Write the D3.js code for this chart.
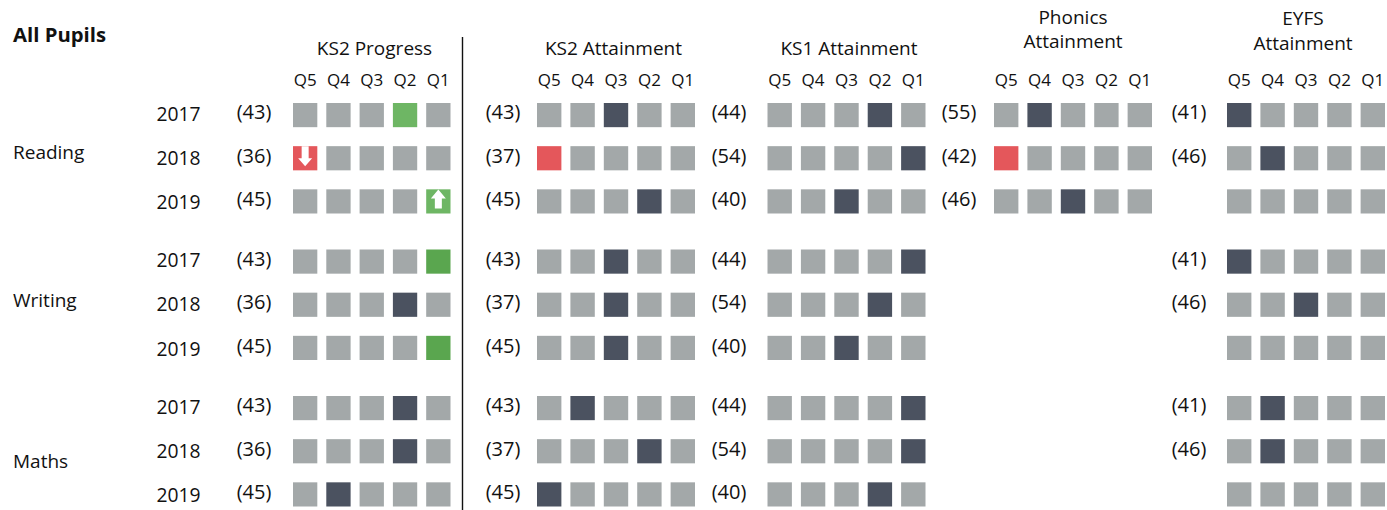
<!DOCTYPE html>
<html>
<head>
<meta charset="utf-8">
<script src="https://cdn.jsdelivr.net/npm/d3@7"></script>
<style>
  html, body { margin: 0; padding: 0; background: #fff; }
  svg { display: block; }
  text { font-family: "Open Sans", "Noto Sans", sans-serif; fill: #111; }
</style>
</head>
<body>
<svg id="chart"></svg>
<script>
const title = 'All Pupils';
const subjects = ['Reading', 'Writing', 'Maths'];
const years = ['2017', '2018', '2019'];
const quintiles = ['Q5', 'Q4', 'Q3', 'Q2', 'Q1'];

const panels = [
  ['KS2 Progress'],
  ['KS2 Attainment'],
  ['KS1 Attainment'],
  ['Phonics', 'Attainment'],
  ['EYFS', 'Attainment']
];

// pupil counts, one entry per subject-year (null = no label)
const ks2ProgressCounts = [43, 36, 45, 43, 36, 45, 43, 36, 45];
const ks2AttainCounts = [43, 37, 45, 43, 37, 45, 43, 37, 45];
const ks1Counts = [44, 54, 40, 44, 54, 40, 44, 54, 40];
const phonicsCounts = [55, 42, 46, null, null, null, null, null, null];
const eyfsCounts = [41, 46, null, 41, 46, null, 41, 46, null];

// which quintile is highlighted (null = none)
const ks2ProgressQ = ['Q2', 'Q5', 'Q1', 'Q1', 'Q2', 'Q1', 'Q2', 'Q2', 'Q4'];
const ks2AttainQ = ['Q3', 'Q5', 'Q2', 'Q3', 'Q3', 'Q3', 'Q4', 'Q2', 'Q5'];
const ks1Q = ['Q2', 'Q1', 'Q3', 'Q1', 'Q2', 'Q3', 'Q1', 'Q1', 'Q2'];
const phonicsQ = ['Q4', 'Q5', 'Q3', null, null, null, null, null, null];
const eyfsQ = ['Q5', 'Q4', null, 'Q5', 'Q3', null, 'Q4', 'Q4', null];

// cell state: d dark, r red, g green, G darker green
const ks2ProgressState = ['g', 'r', 'g', 'G', 'd', 'G', 'd', 'd', 'd'];
const ks2AttainState = ['d', 'r', 'd', 'd', 'd', 'd', 'd', 'd', 'd'];
const ks1State = ['d', 'd', 'd', 'd', 'd', 'd', 'd', 'd', 'd'];
const phonicsState = ['d', 'r', 'd', null, null, null, null, null, null];
const eyfsState = ['d', 'd', null, 'd', 'd', null, 'd', 'd', null];

// arrows on the KS2 Progress panel only
const ks2ProgressArrow = [null, 'down', 'up', null, null, null, null, null, null];

const panelCounts = [ks2ProgressCounts, ks2AttainCounts, ks1Counts, phonicsCounts, eyfsCounts];
const panelQ = [ks2ProgressQ, ks2AttainQ, ks1Q, phonicsQ, eyfsQ];
const panelState = [ks2ProgressState, ks2AttainState, ks1State, phonicsState, eyfsState];

const width = 1387, height = 510;
const colors = { base: '#a3a8a9', d: '#4b5260', r: '#e4575b', g: '#6eb664', G: '#5aa64f' };

const svg = d3.select('#chart').attr('width', width).attr('height', height);

// layout per panel
const panelRange = [[293, 450.5], [537, 695], [767.5, 925.5], [994, 1152], [1227, 1385]];
const countX = [254, 503, 729, 959, 1189];
const headX = [374.5, 613.5, 849, 1073, 1303];
const headY = [[55], [55], [55], [23.5, 48], [25, 50]];

// rows: a scale for the subject group and one for the year inside it
const subjectTop = d3.scalePoint().domain(subjects).range([103, 396]);
const yearY = d3.scaleBand().domain(years).range([0, 110.5]).paddingInner(0.44);
const yearLabelY = d3.scalePoint().domain(years).range([17.5, 106]);
const countLabelY = d3.scalePoint().domain(years).range([16, 103]);
const subjectLabelY = d3.scaleOrdinal().domain(subjects).range([159, 307, 468]);

const rows = subjects.flatMap(s => years.map(y => ({ subject: s, year: y })));

svg.append('text').attr('x', 13).attr('y', 42).attr('font-size', 20.3).attr('font-weight', 700).text(title);

svg.selectAll('.subject').data(subjects).join('text')
  .attr('class', 'subject')
  .attr('x', 13)
  .attr('y', d => subjectLabelY(d))
  .attr('font-size', 19)
  .text(d => d);

svg.selectAll('.year').data(rows).join('text')
  .attr('class', 'year')
  .attr('x', 156.5)
  .attr('y', d => subjectTop(d.subject) + yearLabelY(d.year))
  .attr('font-size', 19.3)
  .text(d => d.year);

const arrowShapes = {
  down: [[-3.5, -12], [3.5, -12], [3.5, 0], [7, 0], [0, 8], [-7, 0], [-3.5, 0]],
  up: [[-3.5, 7], [3.5, 7], [3.5, -3], [7.5, -3], [0, -12], [-7.5, -3], [-3.5, -3]]
};

panels.forEach((lines, p) => {
  const x = d3.scaleBand().domain(quintiles).range(panelRange[p]).paddingInner(0.27);
  const g = svg.append('g').attr('class', 'panel');

  g.selectAll('.head').data(lines).join('text')
    .attr('class', 'head')
    .attr('x', headX[p])
    .attr('y', (d, i) => headY[p][i])
    .attr('text-anchor', 'middle')
    .attr('font-size', 19)
    .text(d => d);

  g.selectAll('.q').data(quintiles).join('text')
    .attr('class', 'q')
    .attr('x', d => x(d) + x.bandwidth() / 2)
    .attr('y', 85.5)
    .attr('text-anchor', 'middle')
    .attr('font-size', 17)
    .text(d => d);

  rows.forEach((row, r) => {
    const top = subjectTop(row.subject) + yearY(row.year);
    const n = panelCounts[p][r];
    if (n !== null) {
      g.append('text')
        .attr('x', countX[p])
        .attr('y', subjectTop(row.subject) + countLabelY(row.year))
        .attr('text-anchor', 'middle')
        .attr('font-size', 20)
        .text('(' + n + ')');
    }
    // phonics only has cells for reading
    if (p === 3 && row.subject !== 'Reading') return;

    g.selectAll('.c' + r).data(quintiles).join('rect')
      .attr('class', 'c' + r)
      .attr('x', d => x(d))
      .attr('y', top)
      .attr('width', x.bandwidth())
      .attr('height', yearY.bandwidth())
      .attr('fill', d => d === panelQ[p][r] ? colors[panelState[p][r]] : colors.base);

    if (p === 0 && ks2ProgressArrow[r]) {
      const cx = x(panelQ[p][r]) + x.bandwidth() / 2;
      const cy = top + yearY.bandwidth() / 2;
      g.append('polygon')
        .attr('points', arrowShapes[ks2ProgressArrow[r]].map(q => [cx + q[0], cy + q[1]].join(',')).join(' '))
        .attr('fill', '#fff');
    }
  });
});

// divider
svg.append('line')
  .attr('x1', 462.5).attr('x2', 462.5)
  .attr('y1', 37).attr('y2', 510)
  .attr('stroke', '#111').attr('stroke-width', 1.4);
</script>
</body>
</html>
